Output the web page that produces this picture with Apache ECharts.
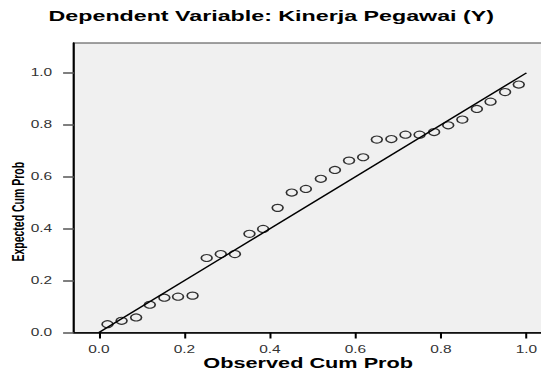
<!DOCTYPE html>
<html>
<head>
<meta charset="utf-8">
<title>P-P Plot</title>
<script src="https://cdn.jsdelivr.net/npm/echarts@6/dist/echarts.min.js"></script>
<style>
  html, body { margin: 0; padding: 0; background: #fff; overflow: hidden; width: 541px; height: 371px; }
  /* the SPSS picture is stretched sideways, so the chart is stretched the same way */
  #main { width: 350px; height: 371px; transform: scaleX(1.55); transform-origin: 0 0; }
</style>
</head>
<body>
<div id="main"></div>
<script>
var titleText = 'Dependent Variable: Kinerja Pegawai (Y)';
var xName = 'Observed Cum Prob';
var yName = 'Expected Cum Prob';

// observed / expected cumulative probabilities
var observed = [0.020, 0.053, 0.087, 0.119, 0.153, 0.185, 0.219, 0.252, 0.285, 0.318,
                0.352, 0.384, 0.418, 0.451, 0.484, 0.519, 0.552, 0.585, 0.618, 0.650,
                0.684, 0.717, 0.750, 0.784, 0.817, 0.850, 0.884, 0.916, 0.950, 0.982];
var expected = [0.032, 0.045, 0.058, 0.107, 0.134, 0.138, 0.142, 0.287, 0.302, 0.302,
                0.380, 0.399, 0.480, 0.539, 0.553, 0.592, 0.626, 0.662, 0.675, 0.743,
                0.745, 0.762, 0.762, 0.772, 0.798, 0.820, 0.861, 0.889, 0.926, 0.955];
var diagonal = [[0, 0], [1, 1]];
var tickValues = [0, 0.2, 0.4, 0.6, 0.8, 1.0];

var points = observed.map(function (v, i) { return [v, expected[i]]; });
var font = '"Liberation Sans", Arial, sans-serif';

var chart = echarts.init(document.getElementById('main'), null, { renderer: 'svg' });
chart.setOption({
  animation: false,
  backgroundColor: '#fff',
  title: {
    text: titleText,
    left: 'center',
    top: 3,
    textStyle: { fontFamily: font, fontSize: 15, fontWeight: 'bold', color: '#000' }
  },
  grid: {
    left: 47.7, right: 0, top: 43, bottom: 38.5,
    outerBoundsMode: 'none', containLabel: false,
    show: true, backgroundColor: '#f0f0f0', borderColor: '#444', borderWidth: 1
  },
  xAxis: {
    type: 'value', min: -0.0585, max: 1.0375,
    name: xName, nameLocation: 'middle', nameGap: 24, nameMoveOverlap: false,
    nameTextStyle: { fontFamily: font, fontSize: 14, fontWeight: 'bold', color: '#000' },
    splitLine: { show: false },
    axisLine: { onZero: false, lineStyle: { color: '#000', width: 1.6 } },
    axisTick: { customValues: tickValues, length: 6, lineStyle: { color: '#000', width: 1.3 } },
    axisLabel: {
      customValues: tickValues, margin: 12, color: '#333',
      fontFamily: font, fontSize: 10,
      formatter: function (v) { return v.toFixed(1); }
    }
  },
  yAxis: {
    type: 'value', min: 0, max: 1.115,
    name: yName, nameLocation: 'middle', nameGap: 30, nameMoveOverlap: false,
    nameTextStyle: { fontFamily: font, fontSize: 10.5, fontWeight: 'bold', color: '#000', padding: [0, 48, 0, 0] },
    splitLine: { show: false },
    axisLine: { onZero: false, lineStyle: { color: '#000', width: 1.3 } },
    axisTick: { customValues: tickValues, length: 7, lineStyle: { color: '#555', width: 1.5 } },
    axisLabel: {
      customValues: tickValues, margin: 14, color: '#333',
      fontFamily: font, fontSize: 10,
      formatter: function (v) { return v.toFixed(1); }
    }
  },
  series: [
    {
      type: 'line', data: diagonal, showSymbol: false, symbol: 'none',
      lineStyle: { color: '#000', width: 1.2 }, silent: true
    },
    {
      type: 'scatter', data: points, symbol: 'circle', symbolSize: 7,
      itemStyle: { color: 'transparent', borderColor: '#000', borderWidth: 1.1 }
    }
  ]
});
</script>
</body>
</html>
